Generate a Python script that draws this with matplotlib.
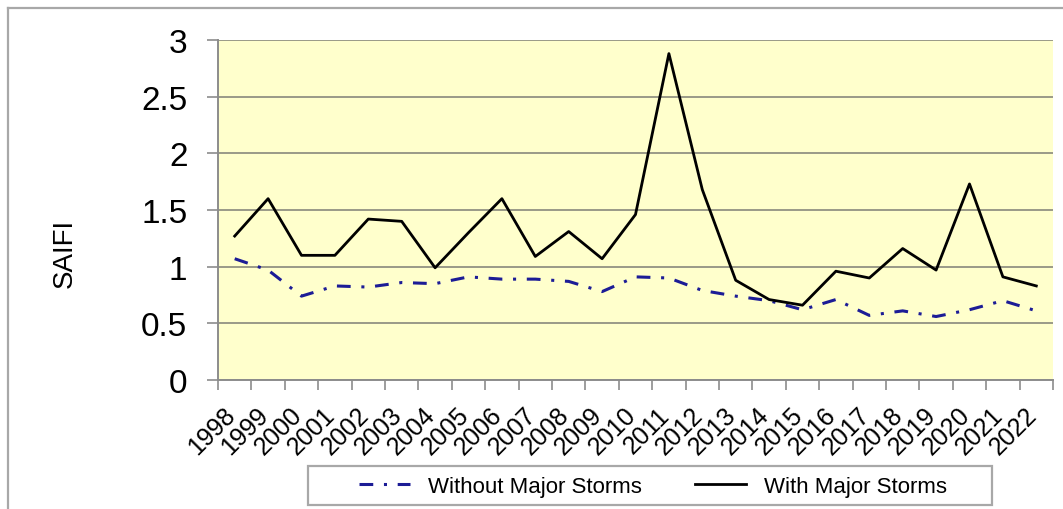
"""SAIFI with and without major storms, 1998-2022."""

import matplotlib

matplotlib.use("Agg")
import matplotlib.pyplot as plt
import matplotlib.transforms as mtransforms
import numpy as np
from matplotlib.lines import Line2D
from matplotlib.patches import Rectangle

plt.rcParams["font.family"] = ["Liberation Sans", "DejaVu Sans"]

years = [str(y) for y in range(1998, 2023)]
with_storms = [1.27, 1.60, 1.10, 1.10, 1.42, 1.40, 0.99, 1.30, 1.60, 1.09,
               1.31, 1.07, 1.46, 2.88, 1.68, 0.88, 0.71, 0.66, 0.96, 0.90,
               1.16, 0.97, 1.73, 0.91, 0.83]
without_storms = [1.07, 0.97, 0.74, 0.83, 0.82, 0.86, 0.85, 0.91, 0.89, 0.89,
                  0.87, 0.78, 0.91, 0.90, 0.79, 0.74, 0.70, 0.62, 0.71, 0.57,
                  0.61, 0.56, 0.62, 0.70, 0.61]
y_ticks = [0, 0.5, 1, 1.5, 2, 2.5, 3]
y_tick_labels = ["0", "0.5", "1", "1.5", "2", "2.5", "3"]

W, H = 1063, 510
fig = plt.figure(figsize=(W / 100, H / 100), dpi=100)

# outer frame (cut off on the right and bottom, like the source image)
fig.add_artist(Line2D([8 / W, 1.0], [1 - 9 / H, 1 - 9 / H], color="#a8a8a8", lw=1.6))
fig.add_artist(Line2D([8 / W, 8 / W], [0.0, 1 - 9 / H], color="#a8a8a8", lw=1.6))

ax = fig.add_axes([218 / W, 129 / H, (1053 - 218) / W, (381 - 41) / H])
ax.set_facecolor("#ffffcc")

x = np.arange(len(years))
blue = "#1c1c96"
ax.plot(x, without_storms, color=blue, lw=2.2, linestyle=(0, (4.5, 3.5, 1, 3.5)),
        label="Without Major Storms")
ax.plot(x, with_storms, color="black", lw=2.0, label="With Major Storms")

ax.set_xlim(-0.5, len(years) - 0.5)
ax.set_ylim(0, 3)

ax.set_yticks(y_ticks)
ax.set_yticklabels(y_tick_labels, fontsize=24)
ax.yaxis.grid(True, color="#9a9a88", lw=1.4)
ax.set_axisbelow(True)
ax.tick_params(axis="y", length=8, width=1.2, color="#8c8c8c", pad=14)

# labels at category centres, tick marks at category boundaries
ax.set_xticks(x)
ax.set_xticklabels(years, rotation=45, ha="right", va="top", fontsize=18)
ax.set_xticks(np.arange(-0.5, len(years)), minor=True)
ax.tick_params(axis="x", which="major", length=0, pad=16)
ax.tick_params(axis="x", which="minor", length=7, width=1.2, color="#8c8c8c")
shift = mtransforms.ScaledTranslation(5 / 100, 0, fig.dpi_scale_trans)
for lbl in ax.get_xticklabels():
    lbl.set_transform(lbl.get_transform() + shift)

for side in ("top", "right"):
    ax.spines[side].set_visible(False)
for side in ("left", "bottom"):
    ax.spines[side].set_color("#8c8c8c")
    ax.spines[side].set_linewidth(1.4)

fig.text(65 / W, 1 - 253 / H, "SAIFI", rotation=90, fontsize=20,
         ha="center", va="center")

# legend with its own frame
fig.add_artist(Rectangle((308 / W, 1 - 506 / H), (992 - 308) / W, (506 - 467) / H,
                         transform=fig.transFigure, fill=False,
                         edgecolor="#a8a8a8", lw=1.6))
fig.legend(loc="center", bbox_to_anchor=(653 / W, 1 - 487 / H), ncol=2,
           frameon=False, fontsize=16, handlelength=2.3, handletextpad=0.8,
           columnspacing=2.4)

fig.savefig("out.png", dpi=100)
plt.close(fig)
